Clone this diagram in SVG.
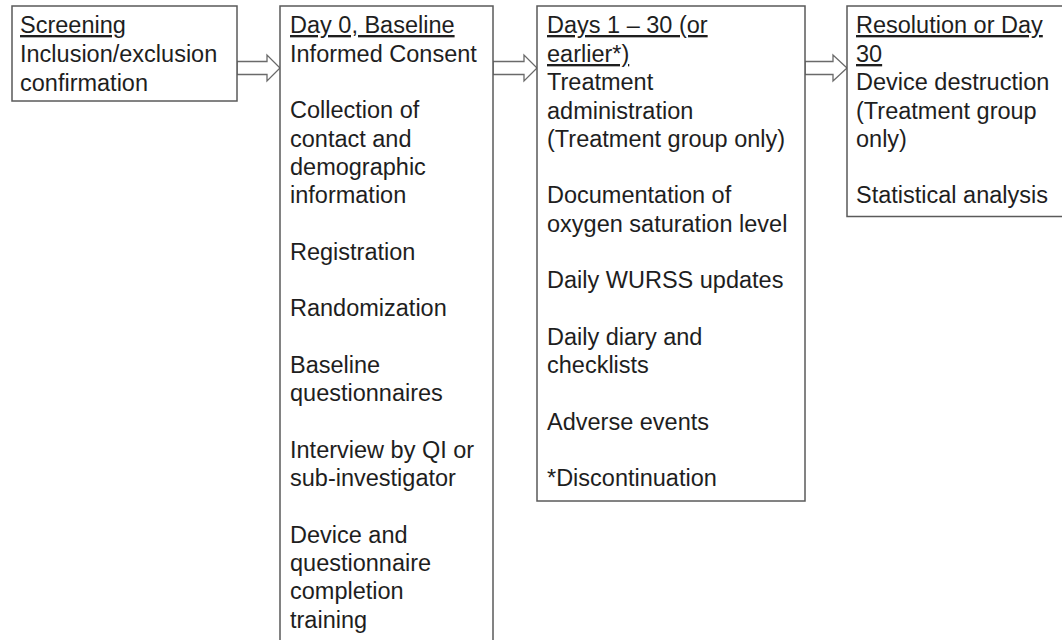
<svg xmlns="http://www.w3.org/2000/svg" width="1062" height="640" viewBox="0 0 1062 640">
<style>
.box{fill:#fff;stroke:#5a5a5a;stroke-width:1.5}
.arr{fill:#fff;stroke:#6a6a6a;stroke-width:1.3;stroke-linejoin:miter}
text{font-family:"Liberation Sans",Arial,sans-serif;font-size:23.5px;fill:#1e1e1e}
.u{text-decoration:underline}
</style>
<rect width="1062" height="640" fill="#fff"/>
<g id="connectors">
<polygon class="arr" points="237,61.5 267,61.5 267,55 280,68 267,81 267,74.5 237,74.5"/>
<polygon class="arr" points="493,61.5 524,61.5 524,55 537,68 524,81 524,74.5 493,74.5"/>
<polygon class="arr" points="805,61.5 833,61.5 833,55 847,68 833,81 833,74.5 805,74.5"/>
</g>
<g id="screening">
<rect class="box" x="12" y="6" width="225" height="95"/>
<text x="20" y="33" class="u">Screening</text>
<text x="20" y="62">Inclusion/exclusion</text>
<text x="20" y="90.5">confirmation</text>
</g>
<g id="baseline">
<rect class="box" x="280" y="6" width="213" height="650"/>
<text x="290" y="33" class="u">Day 0, Baseline</text>
<text x="290" y="62">Informed Consent</text>
<text x="290" y="118">Collection of</text>
<text x="290" y="146.5">contact and</text>
<text x="290" y="175">demographic</text>
<text x="290" y="203">information</text>
<text x="290" y="259.5">Registration</text>
<text x="290" y="316">Randomization</text>
<text x="290" y="372.5">Baseline</text>
<text x="290" y="401">questionnaires</text>
<text x="290" y="457.5">Interview by QI or</text>
<text x="290" y="486">sub-investigator</text>
<text x="290" y="542.5">Device and</text>
<text x="290" y="571">questionnaire</text>
<text x="290" y="599">completion</text>
<text x="290" y="627.5">training</text>
</g>
<g id="days">
<rect class="box" x="537" y="6" width="268" height="495"/>
<text x="547" y="33" class="u">Days 1 – 30 (or</text>
<text x="547" y="62" class="u">earlier*)</text>
<text x="547" y="90">Treatment</text>
<text x="547" y="118.5">administration</text>
<text x="547" y="147">(Treatment group only)</text>
<text x="547" y="203">Documentation of</text>
<text x="547" y="231.5">oxygen saturation level</text>
<text x="547" y="288">Daily WURSS updates</text>
<text x="547" y="344.5">Daily diary and</text>
<text x="547" y="373">checklists</text>
<text x="547" y="429.5">Adverse events</text>
<text x="547" y="486">*Discontinuation</text>
</g>
<g id="resolution">
<rect class="box" x="847" y="6" width="230" height="210.5"/>
<text x="856" y="33" class="u">Resolution or Day</text>
<text x="856" y="62" class="u">30</text>
<text x="856" y="90">Device destruction</text>
<text x="856" y="118.5">(Treatment group</text>
<text x="856" y="147">only)</text>
<text x="856" y="203">Statistical analysis</text>
</g>
</svg>
